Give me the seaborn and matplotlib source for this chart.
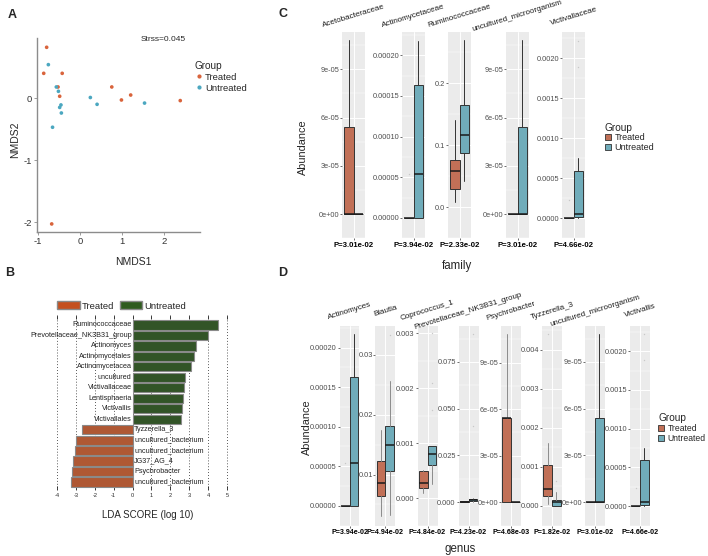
import numpy as np
import pandas as pd
import matplotlib
matplotlib.use("Agg")
import matplotlib.pyplot as plt
from matplotlib.patches import Patch
from matplotlib.lines import Line2D
import seaborn as sns

# ---------------- data ----------------
# A: NMDS ordination
nmds_group = ['Treated'] * 10 + ['Untreated'] * 10
nmds1 = [-0.79, -0.86, -0.42, -0.52, -0.48, 0.76, 0.99, 1.21, 2.39, -0.67,
         -0.75, -0.56, -0.51, -0.45, -0.48, -0.44, 0.25, 0.41, 1.54, -0.65]
nmds2 = [0.82, 0.40, 0.40, 0.18, 0.03, 0.18, -0.03, 0.05, -0.04, -2.03,
         0.54, 0.18, 0.11, -0.11, -0.15, -0.24, 0.01, -0.10, -0.08, -0.47]

# B: LEfSe LDA scores
lda_taxa = ['Ruminococcaceae', 'Prevotellaceae_NK3B31_group', 'Actinomyces',
            'Actinomycetales', 'Actinomycetacea', 'uncultured', 'Victivallaceae',
            'Lentisphaeria', 'Victivallis', 'Victivallales', 'Tyzzerella_3',
            'uncultured_bacterium', 'uncultured_bacterium', 'JG37_AG_4',
            'Psychrobacter', 'uncultured_bacterium']
lda_score = [4.53, 4.00, 3.35, 3.23, 3.10, 2.75, 2.72, 2.66, 2.61, 2.58,
             -2.66, -2.98, -3.07, -3.14, -3.19, -3.28]
lda_group = ['Untreated'] * 10 + ['Treated'] * 6

# C: family level boxplots (whislo, q1, med, q3, whishi)
family_names = ['Acetobacteraceae', 'Actinomycetaceae', 'Ruminococcaceae',
                'uncultured_microorganism', 'Victivallaceae']
family_p = ['P=3.01e-02', 'P=3.94e-02', 'P=2.33e-02', 'P=3.01e-02', 'P=4.66e-02']
family_treated = [(0, 0, 0, 5.4e-5, 1.08e-4), (0, 0, 0, 0, 0),
                  (0.0083, 0.030, 0.058, 0.076, 0.141), (0, 0, 0, 0, 0),
                  (0, 0, 0, 0, 0)]
family_untreated = [(0, 0, 0, 0, 0), (0, 0, 5.4e-5, 1.63e-4, 2.18e-4),
                    (0.043, 0.088, 0.117, 0.165, 0.270), (0, 0, 0, 5.4e-5, 1.08e-4),
                    (0, 0.00001, 0.00005, 0.00059, 0.00075)]
family_out_t = [[], [5.4e-5], [], [], [0.00023]]
family_out_u = [[], [], [], [], [0.00222, 0.00189]]
family_ticks = [[0, 3e-5, 6e-5, 9e-5], [0, 5e-5, 1e-4, 1.5e-4, 2e-4], [0, 0.1, 0.2],
                [0, 3e-5, 6e-5, 9e-5], [0, 0.0005, 0.001, 0.0015, 0.002]]
family_ticklabels = [['0e+00', '3e-05', '6e-05', '9e-05'],
                     ['0.00000', '0.00005', '0.00010', '0.00015', '0.00020'],
                     ['0.0', '0.1', '0.2'],
                     ['0e+00', '3e-05', '6e-05', '9e-05'],
                     ['0.0000', '0.0005', '0.0010', '0.0015', '0.0020']]

# D: genus level boxplots
genus_names = ['Actinomyces', 'Blautia', 'Coprococcus_1', 'Prevotellaceae_NK3B31_group',
               'Psychrobacter', 'Tyzzerella_3', 'uncultured_microorganism', 'Victivallis']
genus_p = ['P=3.94e-02', 'P=4.94e-02', 'P=4.84e-02', 'P=4.23e-02',
           'P=4.68e-03', 'P=1.82e-02', 'P=3.01e-02', 'P=4.66e-02']
genus_treated = [(0, 0, 0, 0, 0), (0.0030, 0.0064, 0.0086, 0.0123, 0.0175),
                 (0.00009, 0.00018, 0.00028, 0.00049, 0.00052),
                 (0, 0, 0.0002, 0.0005, 0.0008), (0, 0, 5.4e-5, 5.4e-5, 1.085e-4),
                 (0.00006, 0.00025, 0.00043, 0.00105, 0.00162), (0, 0, 0, 0, 0),
                 (0, 0, 0, 0, 0)]
genus_untreated = [(0, 0, 5.4e-5, 1.625e-4, 2.17e-4), (0.0033, 0.0106, 0.0149, 0.0181, 0.0256),
                   (0.00025, 0.00061, 0.00080, 0.00094, 0.00094),
                   (0.0002, 0.0005, 0.0012, 0.0018, 0.0022), (0, 0, 0, 0, 0),
                   (0, 0.00001, 0.00009, 0.00016, 0.00036), (0, 0, 0, 5.4e-5, 1.08e-4),
                   (0, 0.00001, 0.00005, 0.00059, 0.00075)]
genus_out_t = [[5.4e-5], [], [], [], [], [0.0044], [], [0.00023]]
genus_out_u = [[], [0.0334], [0.0030, 0.0021, 0.0016], [0.090, 0.041], [], [0.00065], [],
               [0.00222, 0.00189]]
genus_ticks = [[0, 5e-5, 1e-4, 1.5e-4, 2e-4], [0.01, 0.02, 0.03], [0, 0.001, 0.002, 0.003],
               [0, 0.025, 0.05, 0.075], [0, 3e-5, 6e-5, 9e-5],
               [0, 0.001, 0.002, 0.003, 0.004], [0, 3e-5, 6e-5, 9e-5],
               [0, 0.0005, 0.001, 0.0015, 0.002]]
genus_ticklabels = [['0.00000', '0.00005', '0.00010', '0.00015', '0.00020'],
                    ['0.01', '0.02', '0.03'], ['0.000', '0.001', '0.002', '0.003'],
                    ['0.000', '0.025', '0.050', '0.075'], ['0e+00', '3e-05', '6e-05', '9e-05'],
                    ['0.000', '0.001', '0.002', '0.003', '0.004'],
                    ['0e+00', '3e-05', '6e-05', '9e-05'],
                    ['0.0000', '0.0005', '0.0010', '0.0015', '0.0020']]

# ---------------- style ----------------
sns.set_theme(style="white")
plt.rcParams['font.family'] = ['Liberation Sans', 'DejaVu Sans']
plt.rcParams['axes.unicode_minus'] = False

point_colors = {'Treated': '#D9643C', 'Untreated': '#4BA7C0'}
lda_colors = {'Treated': '#C4501F', 'Untreated': '#2F5B1F'}
box_colors = {'Treated': '#C17057', 'Untreated': '#70ACBA'}

W, H = 708, 556
fig = plt.figure(figsize=(W / 100, H / 100), dpi=100)


def px_axes(x0, y0, x1, y1):
    return fig.add_axes([x0 / W, 1 - y1 / H, (x1 - x0) / W, (y1 - y0) / H])


# ---------------- A ----------------
axA = px_axes(37, 38, 200, 232)
dfA = pd.DataFrame({'NMDS1': nmds1, 'NMDS2': nmds2, 'Group': nmds_group})
sns.scatterplot(data=dfA, x='NMDS1', y='NMDS2', hue='Group', palette=point_colors,
                s=7, linewidth=0, ax=axA, legend=False)
axA.set_xlim(-1.02, 2.86)
axA.set_ylim(-2.16, 0.97)
axA.set_xticks([-1, 0, 1, 2])
axA.set_yticks([-2, -1, 0])
for s in ['top', 'right']:
    axA.spines[s].set_visible(False)
for s in ['left', 'bottom']:
    axA.spines[s].set_color('#8c8c8c')
    axA.spines[s].set_linewidth(1.0)
axA.tick_params(bottom=True, left=True, length=2, width=0.6, color='#8c8c8c',
                labelsize=6.8, labelcolor='#333333', pad=1.5)
axA.set_xlabel('')
axA.set_ylabel('')
axA.text(1.98, 0.95, 'Strss=0.045', ha='center', va='center', fontsize=6)
fig.text(15 / W, 1 - 140 / H, 'NMDS2', rotation=90, ha='center', va='center', fontsize=7.5)
fig.text(133 / W, 1 - 262 / H, 'NMDS1', ha='center', va='center', fontsize=7.5)
handles = [Line2D([], [], marker='o', ls='', color=point_colors[g], ms=2) for g in ['Treated', 'Untreated']]
fig.legend(handles, ['Treated', 'Untreated'], title='Group', loc='upper left',
           bbox_to_anchor=(190 / W, 1 - 56 / H), frameon=False, fontsize=6.8,
           title_fontsize=7.2, handlelength=0.8, handletextpad=0.3, labelspacing=0.2,
           alignment='left', borderpad=0)

# ---------------- B ----------------
axB = px_axes(50, 315, 235, 490)
dfB = pd.DataFrame({'score': lda_score, 'row': list(range(len(lda_score))), 'group': lda_group})
sns.barplot(data=dfB, x='score', y='row', hue='group', palette=lda_colors, orient='h',
            dodge=False, width=0.88, edgecolor='#8a8a8a', linewidth=0.8, ax=axB, legend=False)
axB.set_xlim(-4.37, 5.42)
axB.set_ylim(15.76, -0.955)
for v in range(-4, 6):
    axB.axvline(v, color='#222222', ls=(0, (1, 2.5)), lw=0.6, zorder=0)
axB.set_xticks(range(-4, 6))
axB.set_yticks([])
axB.tick_params(axis='x', top=True, bottom=True, direction='in', length=3, width=0.6,
                color='#222222', labelsize=4, pad=2)
for s in axB.spines.values():
    s.set_visible(False)
axB.set_xlabel('')
axB.set_ylabel('')
for i, (name, sc) in enumerate(zip(lda_taxa, lda_score)):
    if sc > 0:
        axB.text(-0.05, i, name, ha='right', va='center', fontsize=5.2, color='#222222')
    else:
        axB.text(0.08, i, name, ha='left', va='center', fontsize=5.2, color='#222222')
fig.legend([Patch(fc=lda_colors['Treated'], ec='#8a8a8a'), Patch(fc=lda_colors['Untreated'], ec='#8a8a8a')],
           ['Treated', 'Untreated'], ncol=2, loc='center left', bbox_to_anchor=(57 / W, 1 - 306 / H),
           frameon=False, fontsize=6.8, handlelength=2.4, handleheight=0.9, handletextpad=0.2,
           columnspacing=0.6, borderpad=0, borderaxespad=0)
fig.text(148 / W, 1 - 515 / H, 'LDA SCORE (log 10)', ha='center', va='center', fontsize=7)


# ---------------- C & D ----------------
def draw_facets(names, pvals, tstats, ustats, tout, uout, ticks, ticklabels,
                lefts, width, top, bottom, strip_y, p_size, whisk):
    for k in range(len(names)):
        ax = px_axes(lefts[k], top, lefts[k] + width, bottom)
        ax.set_facecolor('#EBEBEB')
        stats = []
        for st, out in [(tstats[k], tout[k]), (ustats[k], uout[k])]:
            stats.append({'whislo': st[0], 'q1': st[1], 'med': st[2], 'q3': st[3],
                          'whishi': st[4], 'fliers': out})
        bp = ax.bxp(stats, positions=[-0.225, 0.225], widths=0.45, patch_artist=True,
                    showcaps=False, showfliers=True,
                    boxprops=dict(edgecolor='#333333', linewidth=0.7),
                    medianprops=dict(color='#1a1a1a', linewidth=1.1),
                    whiskerprops=dict(color=whisk[k], linewidth=0.7),
                    flierprops=dict(marker='o', ms=1.0, mec='none', mfc='#c8c8c8'))
        for patch, g in zip(bp['boxes'], ['Treated', 'Untreated']):
            patch.set_facecolor(box_colors[g])
        vals = list(tstats[k]) + list(ustats[k]) + tout[k] + uout[k]
        lo, hi = min(vals), max(vals)
        pad = 0.05 * (hi - lo)
        ax.set_ylim(lo - pad, hi + pad)
        ax.set_xlim(-0.52, 0.52)
        ax.set_yticks(ticks[k])
        ax.set_yticklabels(ticklabels[k])
        step = ticks[k][1] - ticks[k][0]
        ax.set_yticks(np.arange(ticks[k][0] - step / 2, hi + pad, step), minor=True)
        ax.set_xticks([0])
        ax.set_xticklabels([pvals[k]], fontweight='bold', fontsize=p_size, color='black')
        ax.grid(True, which='major', color='white', lw=0.7)
        ax.grid(True, which='minor', axis='y', color='white', lw=0.35)
        ax.set_axisbelow(True)
        for s in ax.spines.values():
            s.set_visible(False)
        ax.tick_params(axis='y', which='major', left=True, length=1.5, width=0.5, color='#333333',
                       labelsize=5.3, labelcolor='#4D4D4D', pad=0.5)
        ax.tick_params(axis='y', which='minor', left=False)
        ax.tick_params(axis='x', bottom=True, length=1.5, width=0.5, color='#333333', pad=1)
        fig.text((lefts[k] + width / 2) / W, 1 - strip_y / H, names[k], rotation=17,
                 rotation_mode='anchor', ha='center', va='center', fontsize=5.8, color='#1a1a1a')


draw_facets(family_names, family_p, family_treated, family_untreated, family_out_t, family_out_u,
            family_ticks, family_ticklabels, [342, 402, 448, 506, 562], 23, 31.7, 238.3, 16, 5.6,
            ['#333333'] * 5)
fig.text(303 / W, 1 - 147 / H, 'Abundance', rotation=90, ha='center', va='center', fontsize=7.8)
fig.text(457 / W, 1 - 266 / H, 'family', ha='center', va='center', fontsize=8.3)
box_handles = [Patch(fc=box_colors[g], ec='#333333', lw=0.6) for g in ['Treated', 'Untreated']]
fig.legend(box_handles, ['Treated', 'Untreated'], title='Group', loc='upper left',
           bbox_to_anchor=(600 / W, 1 - 118 / H), frameon=False, fontsize=6.5, title_fontsize=7.3,
           handlelength=0.7, handleheight=0.7, handletextpad=0.4, labelspacing=0.1,
           alignment='left', borderpad=0)

draw_facets(genus_names, genus_p, genus_treated, genus_untreated, genus_out_t, genus_out_u,
            genus_ticks, genus_ticklabels, [339.5, 375.5, 417.5, 458.5, 501, 542, 585, 630], 20,
            325.5, 525.5, 311, 5.1,
            ['#333333', '#8c8c8c', '#8c8c8c', '#8c8c8c', '#8c8c8c', '#8c8c8c', '#333333', '#333333'])
fig.text(307 / W, 1 - 427 / H, 'Abundance', rotation=90, ha='center', va='center', fontsize=7.8)
fig.text(460 / W, 1 - 549 / H, 'genus', ha='center', va='center', fontsize=8.3)
fig.legend(box_handles, ['Treated', 'Untreated'], title='Group', loc='upper left',
           bbox_to_anchor=(654 / W, 1 - 409 / H), frameon=False, fontsize=6.2, title_fontsize=7.3,
           handlelength=0.7, handleheight=0.7, handletextpad=0.35, labelspacing=0.1,
           alignment='left', borderpad=0)

# panel letters
for lab, x, y in [('A', 12, 15), ('B', 10, 273), ('C', 283, 14), ('D', 283, 273)]:
    fig.text(x / W, 1 - y / H, lab, fontsize=9, fontweight='bold', ha='center', va='center')

fig.savefig('out.png', dpi=100)
